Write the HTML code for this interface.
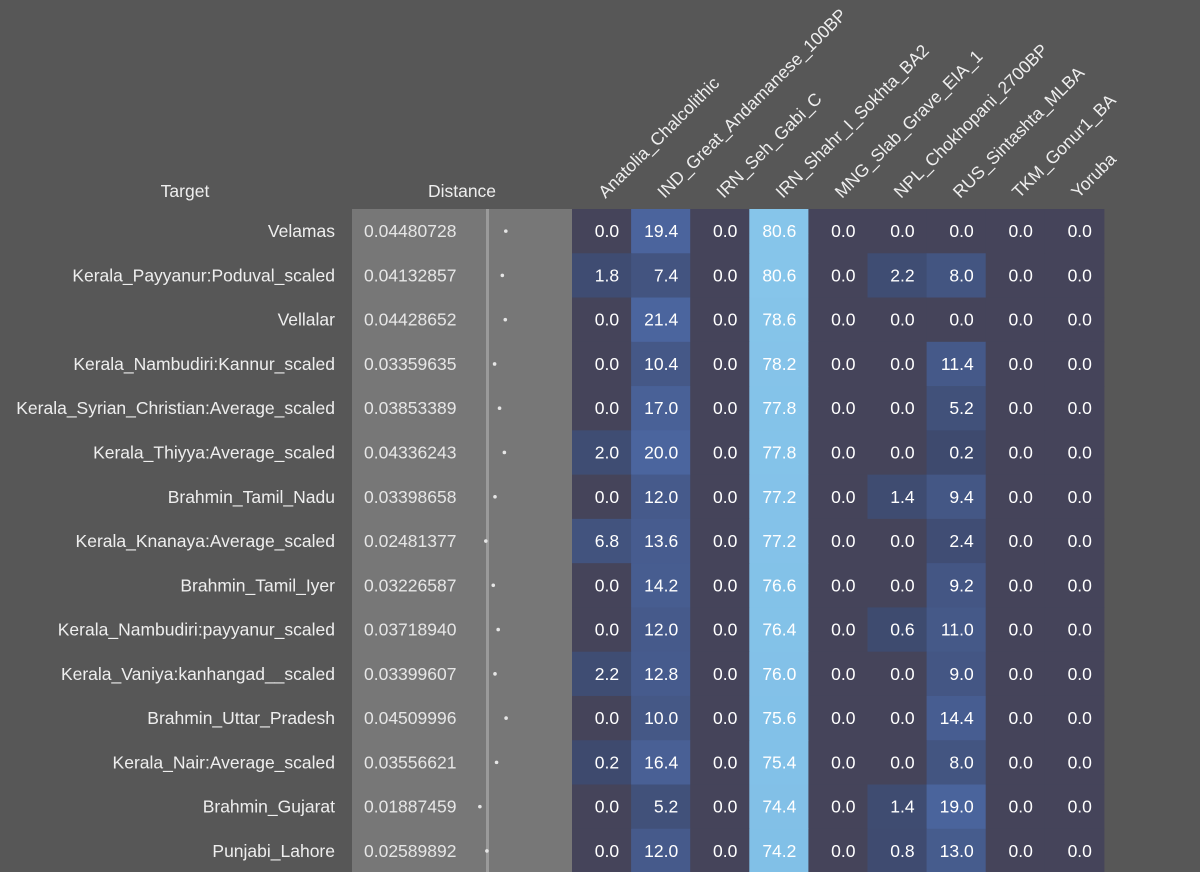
<!DOCTYPE html>
<html><head><meta charset="utf-8"><style>
html,body{margin:0;padding:0;background:#575757;}
svg{display:block;font-family:"Liberation Sans",Arial,sans-serif;}
</style></head><body>
<svg id="chart" width="1200" height="872" viewBox="0 0 1200 872">
<rect width="1200" height="872" fill="#575757"/>
<g id="g"></g>
</svg>
<script>
const sources = ["Anatolia_Chalcolithic","IND_Great_Andamanese_100BP","IRN_Seh_Gabi_C","IRN_Shahr_I_Sokhta_BA2","MNG_Slab_Grave_EIA_1","NPL_Chokhopani_2700BP","RUS_Sintashta_MLBA","TKM_Gonur1_BA","Yoruba"];
const targets = ["Velamas","Kerala_Payyanur:Poduval_scaled","Vellalar","Kerala_Nambudiri:Kannur_scaled","Kerala_Syrian_Christian:Average_scaled","Kerala_Thiyya:Average_scaled","Brahmin_Tamil_Nadu","Kerala_Knanaya:Average_scaled","Brahmin_Tamil_Iyer","Kerala_Nambudiri:payyanur_scaled","Kerala_Vaniya:kanhangad__scaled","Brahmin_Uttar_Pradesh","Kerala_Nair:Average_scaled","Brahmin_Gujarat","Punjabi_Lahore"];
const distances = ["0.04480728","0.04132857","0.04428652","0.03359635","0.03853389","0.04336243","0.03398658","0.02481377","0.03226587","0.03718940","0.03399607","0.04509996","0.03556621","0.01887459","0.02589892"];
const values = [
[0.0,19.4,0.0,80.6,0.0,0.0,0.0,0.0,0.0],
[1.8,7.4,0.0,80.6,0.0,2.2,8.0,0.0,0.0],
[0.0,21.4,0.0,78.6,0.0,0.0,0.0,0.0,0.0],
[0.0,10.4,0.0,78.2,0.0,0.0,11.4,0.0,0.0],
[0.0,17.0,0.0,77.8,0.0,0.0,5.2,0.0,0.0],
[2.0,20.0,0.0,77.8,0.0,0.0,0.2,0.0,0.0],
[0.0,12.0,0.0,77.2,0.0,1.4,9.4,0.0,0.0],
[6.8,13.6,0.0,77.2,0.0,0.0,2.4,0.0,0.0],
[0.0,14.2,0.0,76.6,0.0,0.0,9.2,0.0,0.0],
[0.0,12.0,0.0,76.4,0.0,0.6,11.0,0.0,0.0],
[2.2,12.8,0.0,76.0,0.0,0.0,9.0,0.0,0.0],
[0.0,10.0,0.0,75.6,0.0,0.0,14.4,0.0,0.0],
[0.2,16.4,0.0,75.4,0.0,0.0,8.0,0.0,0.0],
[0.0,5.2,0.0,74.4,0.0,1.4,19.0,0.0,0.0],
[0.0,12.0,0.0,74.2,0.0,0.8,13.0,0.0,0.0]];

const NS="http://www.w3.org/2000/svg";
const g=document.getElementById('g');
const FS=17.5;
const top0=209, rowH=44.27, colX0=572, colW=59.1;
const rowY=i=>top0+i*rowH;
const colX=j=>colX0+j*colW;
const distX=d=>461+1000*d;
function mk(tag,attrs,parent){const e=document.createElementNS(NS,tag);for(const k in attrs)e.setAttribute(k,attrs[k]);(parent||g).appendChild(e);return e;}
function lerp(a,b,t){return Math.round(a+(b-a)*t);}
function color(v){
  if(v===0) return "#45445a";
  if(v>=50){const t=Math.min(1,(v-50)/30);return `rgb(${lerp(110,134,t)},${lerp(170,197,t)},${lerp(220,234,t)})`;}
  const t=Math.min(1,v/20);
  return `rgb(${lerp(62,75,t)},${lerp(74,101,t)},${lerp(110,158,t)})`;
}
let t=mk('text',{x:185,y:197,'text-anchor':'middle',fill:'#eee','font-size':FS});t.textContent='Target';

t=mk('text',{x:462,y:197,'text-anchor':'middle',fill:'#eee','font-size':FS});t.textContent='Distance';

let r=mk('rect',{x:352,y:top0,width:220,height:872-top0,fill:'#777777'});

r=mk('rect',{x:486,y:top0,width:3,height:872-top0,fill:'#9a9a9a'});

sources.forEach((s,j)=>{
  const cx=colX(j)+colW/2+4, by=199;
  const tx=mk('text',{x:cx,y:by,fill:'#eee','font-size':FS,transform:`rotate(-45 ${cx} ${by})`});
  tx.textContent=s;
  
  
});
targets.forEach((name,i)=>{
  const y=rowY(i), cy=y+rowH/2+6;
  const l=mk('text',{x:335,y:cy,'text-anchor':'end',fill:'#eee','font-size':FS});
  l.textContent=name;
  
  
  const d=mk('text',{x:364,y:cy,fill:'#e6e6e6','font-size':FS});
  d.textContent=distances[i];
  
  
  const dot=mk('circle',{cx:distX(parseFloat(distances[i])),cy:y+rowH/2,r:1.8,fill:'#e6e6e6'});
  
  
  values[i].forEach((v,j)=>{
    const c=mk('rect',{x:colX(j),y:y,width:colW+0.5,height:rowH+0.5,fill:color(v)});
    
    
    const tv=mk('text',{x:colX(j)+colW-12,y:cy,'text-anchor':'end',fill:'#fff','font-size':FS});
    tv.textContent=v.toFixed(1);
    
    
  });
});
</script>
</body></html>
